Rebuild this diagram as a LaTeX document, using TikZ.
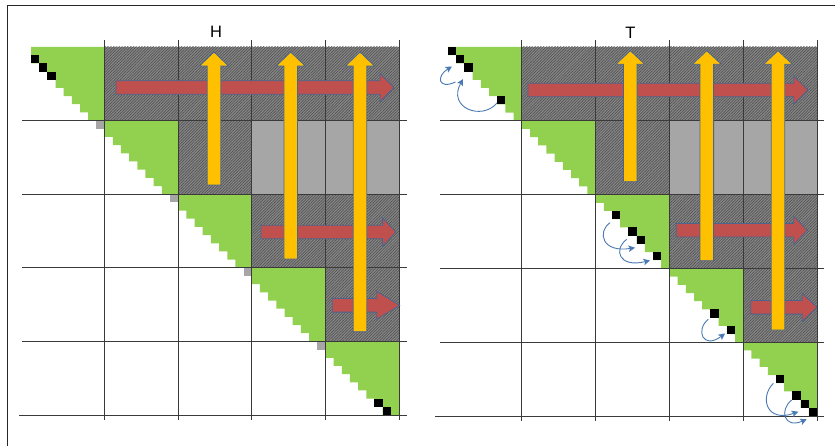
\documentclass[tikz,border=0pt]{standalone}
\usepackage{fontspec}
\setmainfont{Liberation Sans}
\usetikzlibrary{patterns.meta,arrows.meta}

\definecolor{leaf}{HTML}{92D050}
\definecolor{lightcell}{HTML}{A6A6A6}
\definecolor{hatchbase}{HTML}{878787}
\definecolor{hatchline}{HTML}{555555}
\definecolor{rulecol}{HTML}{3A3A3A}
\definecolor{redfill}{HTML}{C0504D}
\definecolor{orangefill}{HTML}{FFC000}
\definecolor{arrowedge}{HTML}{4A6690}
\definecolor{swapblue}{HTML}{4A7AB4}

\tikzset{
  hatchcell/.style={fill=hatchbase,
    postaction={pattern={Lines[angle=45,distance=2pt,line width=0.7pt]},
                pattern color=hatchline}},
  graycell/.style={fill=lightcell},
  gridrule/.style={draw=rulecol, line width=0.9pt},
  frameline/.style={draw=black!85, line width=1pt},
  redblock/.style={fill=redfill, draw=arrowedge, line width=0.8pt, line join=miter},
  orangeblock/.style={fill=orangefill, draw=arrowedge, line width=0.8pt, line join=miter},
  swaparrow/.style={draw=swapblue, line width=0.9pt, -{Stealth[length=6.5pt,width=6.5pt,inset=1.5pt]}},
  title/.style={font=\fontsize{16.5}{19}\selectfont, inner sep=0pt},
}

% block arrow pointing right: start x, tip x, centre y, head length
\newcommand\redblockarrow[4]{%
  \filldraw[redblock] (#1,#3-6.8) -- (#2-#4,#3-6.8) -- (#2-#4,#3-14) -- (#2,#3)
    -- (#2-#4,#3+14) -- (#2-#4,#3+6.8) -- (#1,#3+6.8) -- cycle;}
% block arrow pointing up: centre x, tip y, bottom y, head length
\newcommand\orangeblockarrow[4]{%
  \filldraw[orangeblock] (#1-6.8,#3) -- (#1-6.8,#2+#4) -- (#1-14.5,#2+#4) -- (#1,#2)
    -- (#1+14.5,#2+#4) -- (#1+6.8,#2+#4) -- (#1+6.8,#3) -- cycle;}
% Hessenberg diagonal block (upper part plus subdiagonal)
\newcommand\hessblock[1]{%
  \fill[leaf] (#1*\cs,#1*\cs) -- ++(9*\ss,0) -- ++(0,9*\ss) -- ++(-2*\ss,0)
    \foreach \k in {1,...,7}{ -- ++(0,-\ss) -- ++(-\ss,0)} -- cycle;}
% upper triangular diagonal block
\newcommand\triblock[1]{%
  \fill[leaf] (#1*\cs,#1*\cs) -- ++(9*\ss,0) -- ++(0,9*\ss) -- ++(-\ss,0)
    \foreach \k in {1,...,8}{ -- ++(0,-\ss) -- ++(-\ss,0)} -- cycle;}
% single matrix entry: block, row in block, column in block
\newcommand\entry[3]{\fill[black] (#1*\cs+#3*\ss,#1*\cs+#2*\ss) rectangle ++(\ss,\ss);}
% off-diagonal blocks shared by both panels
\newcommand\offdiag{%
  \path[hatchcell] (\cs,0) rectangle (5*\cs,\cs);
  \path[hatchcell] (2*\cs,\cs) rectangle (3*\cs,2*\cs);
  \path[graycell] (3*\cs,\cs) rectangle (5*\cs,2*\cs);
  \path[hatchcell] (3*\cs,2*\cs) rectangle (5*\cs,3*\cs);
  \path[hatchcell] (4*\cs,3*\cs) rectangle (5*\cs,4*\cs);}
% grid rules of a panel: left overhang, bottom-left overhang, right overhang
\newcommand\panelgrid[3]{%
  \foreach \k in {1,...,4} \draw[gridrule] (-#1,\k*\cs) -- (5*\cs+#3,\k*\cs);
  \draw[gridrule] (-#2,5*\cs) -- (5*\cs+#3,5*\cs);
  \foreach \k in {1,...,5} \draw[gridrule] (\k*\cs,-7) -- (\k*\cs,5*\cs+5);}

\begin{document}
\begin{tikzpicture}[x=1pt,y=-1pt]
\useasboundingbox (0,0) rectangle (837,446);
\fill[white] (0,0) rectangle (837,446);

% outer frame (top and left edges)
\draw[frameline] (7,446) -- (7,6) -- (835,6);

% ---------------- left panel: H ----------------
\begin{scope}[shift={(31,47)}]
  \def\cs{73.6}\pgfmathsetmacro\ss{\cs/9}
  \offdiag
  \foreach \b in {0,...,4} {\hessblock{\b}}
  \foreach \b in {1,...,4} {\fill[lightcell] (\b*\cs-\ss,\b*\cs) rectangle ++(\ss,\ss);}
  \entry{0}{1}{0}\entry{0}{2}{1}\entry{0}{3}{2}
  \entry{4}{7}{6}\entry{4}{8}{7}
  \panelgrid{9}{12}{8}
\end{scope}
\node[title] (titleH) at (216,32.2) {H};

\redblockarrow{116}{394}{87.5}{14}
\redblockarrow{261}{396}{232}{13.5}
\redblockarrow{332.3}{399.7}{305.3}{23}
\orangeblockarrow{214}{52}{185}{14}
\orangeblockarrow{290.7}{52}{259}{14}
\orangeblockarrow{360}{52}{331.7}{14}

% ---------------- right panel: T ----------------
\begin{scope}[shift={(448,47)}]
  \def\cs{73.8}\pgfmathsetmacro\ss{\cs/9}
  \offdiag
  \foreach \b in {0,...,4} {\triblock{\b}}
  \entry{0}{0}{0}\entry{0}{1}{1}\entry{0}{2}{2}\entry{0}{6}{6}
  \entry{2}{2}{2}\entry{2}{4}{4}\entry{2}{5}{5}\entry{2}{7}{7}
  \entry{3}{5}{5}\entry{3}{7}{7}
  \entry{4}{4}{4}\entry{4}{6}{6}\entry{4}{7}{7}\entry{4}{8}{8}
  \panelgrid{8}{13}{7}
\end{scope}
\node[title] (titleT) at (630.5,33) {T};

\redblockarrow{528}{808}{90}{14.3}
\redblockarrow{676.3}{807.3}{230.3}{13.6}
\redblockarrow{750.7}{817}{307.3}{14.7}
\orangeblockarrow{630.3}{50.7}{181.7}{13.6}
\orangeblockarrow{706.8}{50.7}{260.7}{13.6}
\orangeblockarrow{778}{50.7}{330}{13.6}

% swaps of diagonal entries
\coordinate (a1) at (497,103);   \coordinate (a2) at (463,79);
\coordinate (b1) at (455.5,82);  \coordinate (b2) at (452,66.5);
\coordinate (c1) at (610,222.7); \coordinate (c2) at (635,247.7);
\coordinate (d1) at (626.7,239.3); \coordinate (d2) at (650,260.5);
\coordinate (e1) at (708.3,319.3); \coordinate (e2) at (725,333.5);
\coordinate (f1) at (773.3,383.3); \coordinate (f2) at (798.3,411.7);
\coordinate (g1) at (791.7,400); \coordinate (g2) at (806.7,419.3);
\draw[swaparrow] (a1) .. controls (482,121) and (447,108) .. (a2);
\draw[swaparrow] (b1) .. controls (438,90) and (436,76) .. (b2);
\draw[swaparrow] (c1) .. controls (597,232) and (602,253) .. (c2);
\draw[swaparrow] (d1) .. controls (613,250) and (619,268) .. (d2);
\draw[swaparrow] (e1) .. controls (695,330) and (703,350) .. (e2);
\draw[swaparrow] (f1) .. controls (759,398) and (767,423) .. (f2);
\draw[swaparrow] (g1) .. controls (779,410) and (784,429) .. (g2);
\end{tikzpicture}
\end{document}
